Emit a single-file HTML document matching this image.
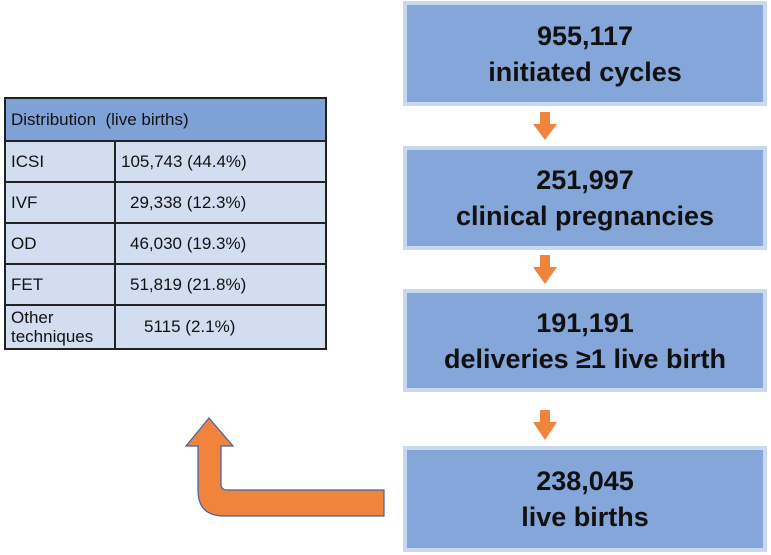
<!DOCTYPE html>
<html><head><meta charset="utf-8"><style>
body{margin:0;width:771px;height:555px;background:#fff;position:relative;overflow:hidden;font-family:"Liberation Sans",sans-serif}
.box{position:absolute;left:403px;width:364px;background:#85a6d9;border:4px solid #c9d8ef;box-sizing:border-box;text-align:center;font-weight:bold;color:#111;font-size:27px;line-height:36px;display:flex;flex-direction:column;justify-content:center}
table{position:absolute;left:4px;top:97px;width:323px;border-collapse:collapse;font-size:17px;color:#111}
td{border:2px solid #222;background:#d2ddf0;height:39px;padding:0 5px}
td.v{text-align:left;padding-left:28px}
th{background:#7ea2d7;border:2px solid #222;text-align:left;font-weight:normal;padding:0 5px;height:41px}
</style></head><body>
<table>
<tr><th colspan="2">Distribution&nbsp; (live births)</th></tr>
<tr><td style="width:98px">ICSI</td><td class="v" style="padding-left:5px">105,743 (44.4%)</td></tr>
<tr><td>IVF</td><td class="v" style="padding-left:14px">29,338 (12.3%)</td></tr>
<tr><td>OD</td><td class="v" style="padding-left:14px">46,030 (19.3%)</td></tr>
<tr><td>FET</td><td class="v" style="padding-left:14px">51,819 (21.8%)</td></tr>
<tr><td style="line-height:19px;height:42px">Other techniques</td><td class="v" style="padding-left:28px">5115 (2.1%)</td></tr>
</table>
<div class="box" style="top:1px;height:105px"><div>955,117</div><div>initiated cycles</div></div>
<div class="box" style="top:146px;height:104px"><div>251,997</div><div>clinical pregnancies</div></div>
<div class="box" style="top:289px;height:103px"><div>191,191</div><div>deliveries ≥1 live birth</div></div>
<div class="box" style="top:446px;height:106px"><div>238,045</div><div>live births</div></div>
<svg width="771" height="555" style="position:absolute;left:0;top:0">
<g fill="#f0843c">
<polygon points="540,112 550,112 550,124 557,124 545,140 533,124 540,124"/>
<polygon points="540,255 550,255 550,267 557,267 545,284 533,267 540,267"/>
<polygon points="540,410 550,410 550,422 557,422 545,440 533,422 540,422"/>
<path stroke="#3b63a8" stroke-width="1.2" d="M384,490 L227,490 Q221,490 221,484 L221,446 L233,446 L209,418 L186,446 L198,446 L198,490 Q198,516 224,516 L384,516 Z"/>
</g></svg>
</body></html>
